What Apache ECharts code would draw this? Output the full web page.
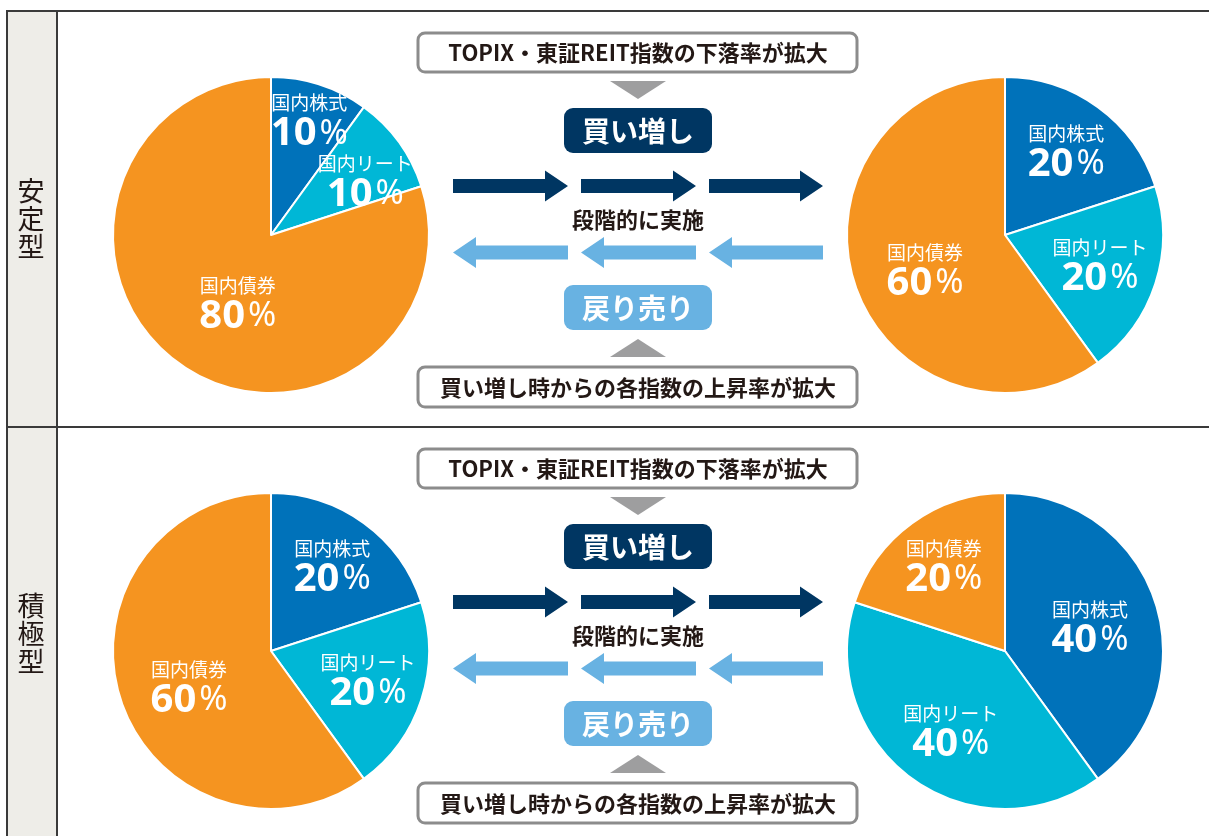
<!DOCTYPE html>
<html><head><meta charset="utf-8">
<script src="https://cdn.jsdelivr.net/npm/echarts@6/dist/echarts.min.js"></script>
<style>html,body{margin:0;padding:0;background:#fff}#c{width:1209px;height:836px}</style>
</head><body><div id="c"></div>
<script>
// ---- data ----
const categories = ['国内株式', '国内リート', '国内債券'];
const stableBefore = [10, 10, 80];
const stableAfter = [20, 20, 60];
const activeBefore = [20, 20, 60];
const activeAfter = [40, 40, 20];
const rowLabels = ['安定型', '積極型'];
const triggerText = 'TOPIX・東証REIT指数の下落率が拡大';
const reverseText = '買い増し時からの各指数の上昇率が拡大';
const buyText = '買い増し';
const sellText = '戻り売り';
const stepText = '段階的に実施';

// ---- style ----
const colors = ['#0072BA', '#00B7D6', '#F59420'];
const DARK = '#231815', NAVY = '#003662', LIGHT = '#68B2E2', GREY = '#9E9E9F', BOXLINE = '#8C8C8C';
const JP = '"Noto Sans CJK JP", sans-serif';
const R = 158;
const ROW_DY = 416;
// label nudges (dx, dy) per slice, relative to the default inside anchor
const nudges = {
  sb: [[13, -36], [28, -5], [15, 2]],
  sa: [[13, -17], [17, 5], [-2, 10]],
  ab: [[13, -18], [19, 4], [-4, 11]],
  aa: [[7, 2], [-6, 14], [-13, -18]]
};

function pie(id, values, cx, cy) {
  return {
    type: 'pie', id: id, center: [cx, cy], radius: [0, R], startAngle: 90, clockwise: true,
    silent: true, animation: false,
    itemStyle: { borderColor: '#fff', borderWidth: 2 },
    data: categories.map((n, i) => ({ name: n, value: values[i], itemStyle: { color: colors[i] } })),
    label: {
      show: true, position: 'inside',
      formatter: p => '{n|' + p.name + '}\n{v|' + p.value + '}{p|%}',
      rich: {
        n: { fontFamily: JP, fontSize: 19, color: '#fff', lineHeight: 26, align: 'center' },
        v: { fontFamily: '"Noto Sans", sans-serif', fontWeight: 'bold', fontSize: 40, color: '#fff', lineHeight: 36 },
        p: { fontFamily: '"Noto Sans", sans-serif', fontWeight: 'normal', fontSize: 34, color: '#fff', lineHeight: 36, padding: [0, 0, 0, 3] }
      }
    },
    labelLine: { show: false },
    labelLayout: p => ({ dx: nudges[id][p.dataIndex][0], dy: nudges[id][p.dataIndex][1] })
  };
}

function arrow(x0, x1, yc, dir, color) {
  const sh = 7, hh = 15.5, hl = 23;
  let pts;
  if (dir > 0) {
    pts = [[x0, yc - sh], [x1 - hl, yc - sh], [x1 - hl, yc - hh], [x1, yc], [x1 - hl, yc + hh], [x1 - hl, yc + sh], [x0, yc + sh]];
  } else {
    pts = [[x1, yc - sh], [x0 + hl, yc - sh], [x0 + hl, yc - hh], [x0, yc], [x0 + hl, yc + hh], [x0 + hl, yc + sh], [x1, yc + sh]];
  }
  return { type: 'polygon', shape: { points: pts }, style: { fill: color }, silent: true };
}

function rowGraphics(oy) {
  const g = [];
  const cx = 638;
  g.push({ type: 'rect', shape: { x: 418, y: 33 + oy, width: 439, height: 39, r: 7 }, style: { fill: '#fff', stroke: BOXLINE, lineWidth: 3 } });
  g.push({ type: 'text', x: cx, y: 53 + oy, style: { text: triggerText, font: 'bold 22px ' + JP, fill: DARK, align: 'center', verticalAlign: 'middle' } });
  g.push({ type: 'polygon', shape: { points: [[610, 81 + oy], [666, 81 + oy], [638, 99 + oy]] }, style: { fill: GREY } });
  g.push({ type: 'rect', shape: { x: 564, y: 108 + oy, width: 148, height: 45, r: 9 }, style: { fill: NAVY } });
  g.push({ type: 'text', x: cx, y: 131 + oy, style: { text: buyText, font: 'bold 28px ' + JP, fill: '#fff', align: 'center', verticalAlign: 'middle' } });
  [[453, 568], [581, 696], [709, 823]].forEach(s => g.push(arrow(s[0], s[1], 186 + oy, 1, NAVY)));
  g.push({ type: 'text', x: cx, y: 220 + oy, style: { text: stepText, font: 'bold 22px ' + JP, fill: DARK, align: 'center', verticalAlign: 'middle' } });
  [[453, 568], [581, 696], [709, 823]].forEach(s => g.push(arrow(s[0], s[1], 252.5 + oy, -1, LIGHT)));
  g.push({ type: 'rect', shape: { x: 564, y: 285 + oy, width: 148, height: 45, r: 9 }, style: { fill: LIGHT } });
  g.push({ type: 'text', x: cx, y: 308 + oy, style: { text: sellText, font: 'bold 28px ' + JP, fill: '#fff', align: 'center', verticalAlign: 'middle' } });
  g.push({ type: 'polygon', shape: { points: [[610, 357 + oy], [666, 357 + oy], [638, 339 + oy]] }, style: { fill: GREY } });
  g.push({ type: 'rect', shape: { x: 418, y: 367 + oy, width: 439, height: 40, r: 7 }, style: { fill: '#fff', stroke: BOXLINE, lineWidth: 3 } });
  g.push({ type: 'text', x: cx, y: 387.5 + oy, style: { text: reverseText, font: 'bold 22px ' + JP, fill: DARK, align: 'center', verticalAlign: 'middle' } });
  return g;
}

const LINE = '#3a3a3a';
const frame = [
  { type: 'rect', shape: { x: 7, y: 11, width: 50, height: 840 }, style: { fill: '#EEEDE8' } },
  { type: 'line', shape: { x1: 6, y1: 11, x2: 1209, y2: 11 }, style: { stroke: LINE, lineWidth: 2 } },
  { type: 'line', shape: { x1: 7, y1: 10, x2: 7, y2: 836 }, style: { stroke: LINE, lineWidth: 2 } },
  { type: 'line', shape: { x1: 57, y1: 10, x2: 57, y2: 836 }, style: { stroke: LINE, lineWidth: 2 } },
  { type: 'line', shape: { x1: 6, y1: 427, x2: 1209, y2: 427 }, style: { stroke: LINE, lineWidth: 2 } },
  { type: 'text', x: 31, y: 219, style: { text: rowLabels[0].split('').join('\n'), font: '27px ' + JP, lineHeight: 28, fill: DARK, align: 'center', verticalAlign: 'middle' } },
  { type: 'text', x: 31, y: 634, style: { text: rowLabels[1].split('').join('\n'), font: '27px ' + JP, lineHeight: 28, fill: DARK, align: 'center', verticalAlign: 'middle' } }
];

const chart = echarts.init(document.getElementById('c'), null, { renderer: 'canvas' });
chart.setOption({
  backgroundColor: '#fff',
  animation: false,
  graphic: { elements: frame.concat(rowGraphics(0), rowGraphics(ROW_DY)).map(e => Object.assign({ silent: true }, e)) },
  series: [
    pie('sb', stableBefore, 271, 235),
    pie('sa', stableAfter, 1005, 235),
    pie('ab', activeBefore, 271, 235 + ROW_DY),
    pie('aa', activeAfter, 1005, 235 + ROW_DY)
  ]
});
</script>
</body></html>
